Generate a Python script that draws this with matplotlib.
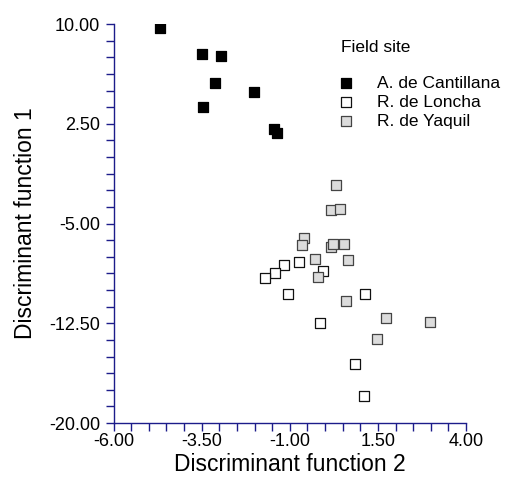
import matplotlib
matplotlib.use("Agg")
import matplotlib.pyplot as plt
from matplotlib.ticker import MultipleLocator, FixedLocator, FormatStrFormatter

plt.rcParams['font.family'] = ['Liberation Sans', 'DejaVu Sans']

# Data
cant_x = [-4.68, -3.50, -2.95, -3.12, -2.01, -3.46, -1.45, -1.35]
cant_y = [9.68, 7.72, 7.59, 5.54, 4.91, 3.74, 2.11, 1.78]

lon_x = [-0.75, -1.17, -1.43, -1.69, -0.07, -1.06, 1.14, -0.13, 0.86, 1.10]
lon_y = [-7.92, -8.14, -8.72, -9.12, -8.57, -10.28, -10.32, -12.50, -15.54, -17.97]

yaq_x = [0.30, 0.16, 0.42, -0.59, -0.66, 0.16, 0.24, 0.55, -0.28, 0.65, -0.20, 0.59, 1.72, 2.97, 1.47]
yaq_y = [-2.11, -3.98, -3.91, -6.06, -6.59, -6.77, -6.55, -6.57, -7.65, -7.74, -9.00, -10.85, -12.08, -12.41, -13.71]

labels = ["A. de Cantillana", "R. de Loncha", "R. de Yaquil"]
legend_title = "Field site"
xticks = [-6.0, -3.5, -1.0, 1.5, 4.0]
yticks = [10.0, 2.5, -5.0, -12.5, -20.0]

fig = plt.figure(figsize=(5.29, 4.83), dpi=100)
ax = fig.add_axes([0.2146, 0.1242, 0.881 - 0.2146, 0.9503 - 0.1242])

navy = '#1c1c8a'
ms = 62
ax.scatter(cant_x, cant_y, s=ms, marker='s', facecolor='black', edgecolor='black', linewidth=0.9, label=labels[0], zorder=3)
ax.scatter(lon_x, lon_y, s=ms, marker='s', facecolor='white', edgecolor='#111111', linewidth=0.9, label=labels[1], zorder=3)
ax.scatter(yaq_x, yaq_y, s=ms, marker='s', facecolor='#dcdcdc', edgecolor='#444444', linewidth=0.9, label=labels[2], zorder=4)

ax.set_xlim(-6, 4)
ax.set_ylim(-20, 10)
ax.xaxis.set_major_locator(FixedLocator(xticks))
ax.yaxis.set_major_locator(FixedLocator(yticks))
ax.xaxis.set_minor_locator(MultipleLocator(0.5))
ax.yaxis.set_minor_locator(MultipleLocator(1.25))
ax.xaxis.set_major_formatter(FormatStrFormatter('%.2f'))
ax.yaxis.set_major_formatter(FormatStrFormatter('%.2f'))

for s in ['top', 'right']:
    ax.spines[s].set_visible(False)
for s in ['left', 'bottom']:
    ax.spines[s].set_color(navy)
    ax.spines[s].set_linewidth(1.0)

ax.tick_params(which='both', direction='out', color=navy, length=6, width=1.0, labelsize=13, labelcolor='black')
ax.tick_params(axis='x', pad=1.5)
ax.tick_params(axis='y', pad=3.5)

ax.set_xlabel("Discriminant function 2", fontsize=16.5, labelpad=1.5)
ax.set_ylabel("Discriminant function 1", fontsize=16.5, labelpad=9)

ax.text(0.645, 0.94, legend_title, transform=ax.transAxes, fontsize=12.5, ha='left', va='center')
leg = ax.legend(loc='upper left', bbox_to_anchor=(0.635, 0.87),
                frameon=False, fontsize=12.5, borderpad=0,
                handlelength=1.0, handletextpad=1.3, borderaxespad=0,
                labelspacing=0.22, markerscale=0.9)

fig.savefig("out.png", dpi=100)
